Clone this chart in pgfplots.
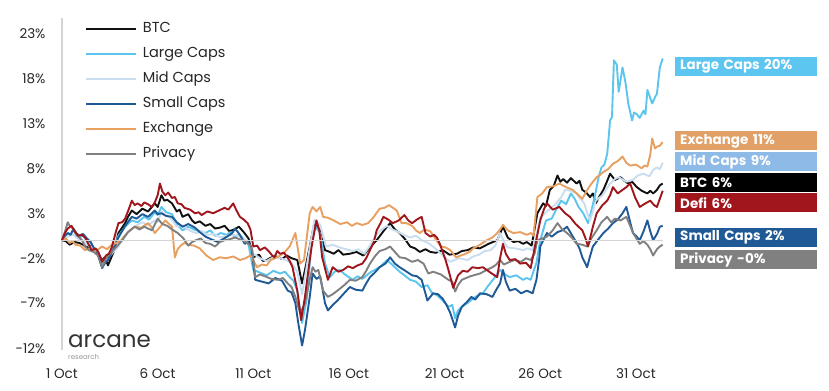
\documentclass[border=0pt]{standalone}
\usepackage{pgfplots}
\pgfplotsset{compat=1.18}
\usepackage{fontspec}
\setmainfont{Poppins}
\definecolor{cbtc}{HTML}{111111}
\definecolor{clarge}{HTML}{5BC5EE}
\definecolor{cmid}{HTML}{C9DDF0}
\definecolor{csmall}{HTML}{1F5A96}
\definecolor{cexch}{HTML}{E8A060}
\definecolor{cpriv}{HTML}{808080}
\definecolor{cdefi}{HTML}{A0161C}
\definecolor{lblmid}{HTML}{8DBAE6}
\definecolor{lblexch}{HTML}{E0A066}
\definecolor{lbllarge}{HTML}{5CC6F0}
\definecolor{axgray}{HTML}{D4D4D4}
\begin{document}
\begin{tikzpicture}
\useasboundingbox (0bp,0bp) rectangle (829bp,391bp);
\begin{axis}[
  at={(62bp,41bp)}, anchor=south west,
  scale only axis, width=602.6bp, height=332bp,
  xmin=0, xmax=31.5, ymin=-12.2, ymax=24.7,
  axis x line*=bottom, axis y line*=left,
  x axis line style={draw=none},
  y axis line style={draw=axgray, line width=2.2bp},
  tick style={draw=none},
  xtick={0,5,10,15,20,25,30},
  xticklabels={1 Oct,6 Oct,11 Oct,16 Oct,21 Oct,26 Oct,31 Oct},
  ytick={-12,-7,-2,3,8,13,18,23},
  yticklabels={-12\%,-7\%,-2\%,3\%,8\%,13\%,18\%,23\%},
  tick label style={font=\fontsize{13.5bp}{16bp}\selectfont, text=black!85},
  xticklabel style={yshift=-15bp},
  yticklabel style={xshift=-13bp},
  clip=false,
  legend style={at={(0.038,0.988)}, anchor=north west, draw=none, fill=none,
    inner sep=0pt, outer sep=0pt, row sep=11bp, column sep=6bp,
    font=\fontsize{14.5bp}{17bp}\selectfont,
    nodes={inner sep=0pt, text height=11bp, text depth=3bp, text=black!85}},
  legend cell align=left,
  legend image code/.code={\draw[#1, line width=2bp] (0bp,0bp) -- (50bp,0bp);},
  every axis plot/.append style={line width=1.9bp, line join=round},
]
% BTC
\addplot[cbtc] coordinates {(0,0) (0.2,-0.1) (0.4,-0.5) (0.65,-0.2) (0.9,-0.3) (1.1,-0.5) (1.3,-0.8) (1.5,-0.6) (1.7,-1.2) (1.9,-1.5) (2.1,-2.2) (2.25,-1.9) (2.4,-2.8) (2.7,-1.3) (2.95,0.8) (3.3,1.9) (3.45,2.6) (3.65,3.3) (3.9,2.9) (4.2,3.5) (4.5,3.2) (4.85,4.1) (5.0,3.7) (5.2,5.0) (5.35,4.4) (5.5,4.5) (5.75,4.1) (6.0,3.2) (6.15,3.4) (6.3,2.6) (6.6,2.9) (6.8,2.2) (6.95,1.9) (7.2,2.1) (7.5,1.6) (7.75,1.8) (8.0,1.3) (8.25,1.4) (8.5,1.6) (8.75,1.0) (9.0,1.2) (9.25,1.5) (9.5,0.9) (9.75,0.2) (10.0,-1.9) (10.3,-1.6) (10.5,-2.3) (10.7,-2.2) (10.95,-1.9) (11.2,-1.8) (11.5,-2.1) (11.75,-1.7) (12.0,-2.0) (12.3,-2.2) (12.55,-4.8) (12.75,-2.8) (12.95,-0.7) (13.2,2.0) (13.45,1.2) (13.75,-1.1) (14.0,-1.3) (14.2,-1.5) (14.45,-1.1) (14.7,-1.6) (15.05,-1.5) (15.4,-1.3) (15.75,-1.7) (16.1,-0.8) (16.45,0) (16.8,1.0) (17.15,1.9) (17.4,1.2) (17.65,0.8) (17.9,0.2) (18.2,-0.7) (18.45,-0.9) (18.7,-1.3) (19.0,-1.0) (19.25,-1.3) (19.55,-1.4) (19.9,-1.1) (20.25,-1.6) (20.65,-1.5) (20.9,-1.2) (21.2,-1.1) (21.5,-0.8) (21.85,-0.9) (22.3,-0.4) (22.75,0) (23.05,1.5) (23.3,0.3) (23.6,-0.2) (23.85,-0.1) (24.1,-0.4) (24.3,-0.2) (24.55,-0.6) (24.85,3.0) (25.15,4.1) (25.3,3.8) (25.5,5.6) (25.7,6.0) (25.9,7.2) (26.05,6.5) (26.2,6.8) (26.4,6.4) (26.6,6.9) (26.9,6.3) (27.05,6.6) (27.2,5.6) (27.4,5.3) (27.6,4.8) (27.75,5.2) (27.9,4.1) (28.1,4.9) (28.3,5.6) (28.5,6.6) (28.65,7.4) (28.9,6.7) (29.2,7.0) (29.4,6.6) (29.6,6.3) (29.8,6.5) (30.05,5.9) (30.3,5.5) (30.6,5.2) (30.75,5.5) (30.9,5.2) (31.1,5.6) (31.25,6.1) (31.4,6.3)};
% Large Caps
\addplot[clarge] coordinates {(0,0) (0.15,0.4) (0.3,0.8) (0.45,0.6) (0.6,1.2) (0.75,0.7) (0.9,0.3) (1.1,0.5) (1.3,0) (1.5,-0.3) (1.7,-1.0) (1.9,-1.6) (2.1,-2.6) (2.25,-2.2) (2.4,-2.0) (2.7,-0.9) (2.95,0.5) (3.3,1.5) (3.65,2.2) (3.95,2.0) (4.3,2.6) (4.55,2.3) (4.85,3.1) (5.0,2.8) (5.2,3.7) (5.45,3.1) (5.75,2.9) (6.0,1.8) (6.3,1.1) (6.6,1.5) (6.9,1.2) (7.2,1.0) (7.5,0.8) (7.75,1.1) (8.0,0.5) (8.3,0.8) (8.6,0.6) (8.8,0.9) (9.0,0.4) (9.25,0.6) (9.5,0.2) (9.75,-0.5) (10.0,-3.3) (10.35,-3.6) (10.7,-3.9) (11.05,-3.4) (11.4,-3.7) (11.65,-3.5) (11.9,-4.1) (12.1,-4.5) (12.3,-5.6) (12.55,-9.2) (12.8,-6.5) (13.05,0) (13.25,1.5) (13.5,0.8) (13.75,-2.6) (14.0,-4.1) (14.25,-3.5) (14.5,-3.3) (14.85,-3.9) (15.2,-4.4) (15.45,-4.0) (15.7,-4.3) (16.1,-3.6) (16.6,-3.0) (17.0,-2.2) (17.3,-2.8) (17.65,-3.5) (17.9,-3.9) (18.2,-4.4) (18.5,-4.6) (18.8,-5.2) (19.1,-5.0) (19.35,-5.9) (19.6,-6.1) (19.9,-6.7) (20.2,-7.4) (20.4,-7.2) (20.55,-8.7) (20.7,-7.8) (20.9,-7.4) (21.25,-6.9) (21.6,-6.3) (22.0,-5.9) (22.3,-5.0) (22.6,-4.2) (22.9,-3.3) (23.15,-3.8) (23.4,-4.1) (23.75,-3.9) (24.1,-4.4) (24.3,-4.2) (24.5,-4.4) (24.8,-2.5) (25.0,0) (25.3,2.2) (25.6,2.4) (25.85,3.5) (26.1,4.4) (26.35,4.0) (26.6,5.2) (26.8,4.6) (27.0,3.7) (27.25,3.0) (27.5,1.9) (27.7,3.5) (27.9,5.4) (28.05,7.0) (28.2,8.1) (28.35,8.4) (28.5,9.6) (28.65,13.3) (28.75,13.7) (28.85,20.0) (29.0,19.5) (29.1,16.5) (29.3,19.2) (29.45,17.6) (29.6,15.2) (29.8,13.3) (29.9,14.2) (30.05,14.0) (30.2,13.6) (30.4,14.4) (30.5,14.0) (30.6,16.7) (30.75,15.8) (30.85,15.2) (31.0,15.9) (31.1,16.3) (31.25,19.2) (31.4,20.2)};
% Mid Caps
\addplot[cmid] coordinates {(0,0) (0.2,0.3) (0.4,0.5) (0.6,0.6) (0.8,0.2) (1.05,0.0) (1.3,-0.5) (1.55,-0.8) (1.8,-1.4) (2.0,-1.9) (2.2,-2.6) (2.4,-2.0) (2.6,-1.5) (2.95,-0.7) (3.2,0.4) (3.5,1.0) (3.85,1.6) (4.2,2.0) (4.5,1.7) (4.85,2.2) (5.0,2.0) (5.2,3.2) (5.4,2.7) (5.6,2.6) (5.8,2.1) (6.0,1.5) (6.25,1.7) (6.5,1.3) (6.75,1.0) (7.0,0.8) (7.3,1.0) (7.6,0.6) (7.95,0.7) (8.3,0.3) (8.6,0.5) (8.9,0.6) (9.2,0.5) (9.5,0.2) (9.75,-0.3) (10.0,-1.5) (10.35,-2.0) (10.7,-2.3) (11.05,-1.9) (11.4,-2.0) (11.7,-2.2) (12.0,-2.5) (12.3,-3.5) (12.55,-6.0) (12.9,-1.5) (13.2,2.3) (13.5,1.7) (13.8,-0.7) (14.15,-0.5) (14.5,-0.8) (14.85,-1.0) (15.2,-1.2) (15.5,-1.0) (15.8,-1.5) (16.1,-0.6) (16.4,0.5) (16.7,1.2) (17.0,1.6) (17.25,1.2) (17.5,1.0) (17.85,0.6) (18.2,0.3) (18.5,0.5) (18.8,0) (19.15,-0.3) (19.5,-0.9) (19.9,-1.7) (20.3,-2.4) (20.75,-2.0) (21.2,-2.2) (21.5,-1.8) (21.8,-1.6) (22.1,-1.2) (22.4,-1.1) (22.65,-0.6) (22.9,0.8) (23.1,-0.2) (23.3,-0.8) (23.7,-0.9) (24.1,-1.1) (24.35,-0.9) (24.6,-1.1) (24.8,0.5) (25.0,2.5) (25.2,2.9) (25.4,3.3) (25.75,3.9) (26.1,4.8) (26.3,5.6) (26.6,5.5) (26.9,5.2) (27.1,4.6) (27.3,4.1) (27.45,3.0) (27.6,2.2) (27.75,3.2) (27.9,4.4) (28.25,5.0) (28.65,6.3) (28.9,6.8) (29.1,7.0) (29.5,6.5) (29.85,6.7) (30.1,7.2) (30.4,7.4) (30.7,7.1) (30.9,7.8) (31.1,8.1) (31.25,7.9) (31.4,8.6)};
% Small Caps
\addplot[csmall] coordinates {(0,0) (0.15,0.5) (0.3,0.8) (0.45,0.6) (0.6,1.3) (0.75,0.8) (0.9,0.5) (1.1,0.7) (1.3,0.2) (1.5,-0.2) (1.7,-1.0) (1.9,-1.8) (2.1,-3.1) (2.25,-2.5) (2.4,-2.2) (2.7,-0.9) (2.95,0.3) (3.3,1.6) (3.65,2.6) (3.9,2.4) (4.2,2.9) (4.5,2.6) (4.85,3.3) (5.0,2.9) (5.2,3.0) (5.45,2.7) (5.75,2.6) (6.0,2.0) (6.3,1.5) (6.6,1.8) (6.95,1.4) (7.2,0.9) (7.5,0.4) (7.8,0.1) (8.15,-0.2) (8.4,0.1) (8.7,0.5) (8.9,0.8) (9.05,1.3) (9.3,0.6) (9.55,-0.4) (9.75,-0.2) (9.9,-0.8) (10.1,-4.4) (10.45,-4.6) (10.8,-4.8) (11.15,-4.2) (11.5,-4.5) (11.8,-5.6) (12.0,-5.8) (12.2,-7.0) (12.35,-9.2) (12.55,-11.7) (12.7,-10.0) (12.95,-6.3) (13.1,-3.7) (13.3,-4.3) (13.5,-4.0) (13.75,-7.0) (13.9,-7.8) (14.15,-7.2) (14.4,-6.7) (14.7,-6.0) (15.05,-5.2) (15.35,-5.5) (15.7,-5.6) (15.9,-4.8) (16.1,-4.1) (16.35,-3.6) (16.6,-3.0) (16.9,-2.6) (17.15,-1.9) (17.4,-2.6) (17.65,-3.0) (17.95,-3.4) (18.3,-3.9) (18.55,-4.0) (18.8,-4.4) (19.1,-6.7) (19.4,-5.9) (19.65,-6.0) (19.9,-6.5) (20.1,-7.2) (20.3,-8.1) (20.55,-9.7) (20.7,-8.4) (20.9,-7.4) (21.15,-6.9) (21.4,-6.3) (21.6,-6.6) (21.85,-5.9) (22.2,-6.0) (22.5,-6.3) (22.7,-5.5) (22.9,-4.8) (23.05,-3.3) (23.2,-4.6) (23.4,-5.6) (23.7,-5.4) (24.0,-5.9) (24.3,-5.6) (24.6,-5.9) (24.8,-4.4) (24.95,-2.0) (25.0,-0.7) (25.2,0.2) (25.35,0.8) (25.6,0.4) (25.9,0.9) (26.15,1.1) (26.4,1.5) (26.65,0.6) (26.9,-0.3) (27.05,-0.9) (27.2,-1.9) (27.45,-3.0) (27.6,-1.8) (27.75,-0.7) (28.0,0) (28.3,0.8) (28.55,1.3) (28.8,1.9) (29.05,2.3) (29.3,3.0) (29.5,3.7) (29.7,2.0) (29.85,0.8) (30.0,0.5) (30.2,0) (30.4,1.0) (30.6,2.2) (30.75,1.0) (30.9,0) (31.1,0.7) (31.25,1.5) (31.4,1.6)};
% Exchange
\addplot[cexch] coordinates {(0,0) (0.2,0.2) (0.4,-0.3) (0.55,-0.1) (0.7,-0.5) (0.95,-0.6) (1.2,-1.1) (1.45,-0.9) (1.7,-1.3) (1.9,-1.0) (2.1,-0.7) (2.35,-1.0) (2.6,-0.5) (2.85,-0.3) (3.1,0) (3.45,0.9) (3.8,1.5) (4.15,1.4) (4.5,1.9) (4.7,1.4) (4.85,0.8) (5.1,1.4) (5.4,2.2) (5.6,1.8) (5.75,1.5) (5.9,-1.9) (6.05,-1.0) (6.2,-0.6) (6.4,-0.3) (6.6,-0.5) (6.9,-0.6) (7.2,-0.9) (7.55,-1.7) (7.9,-2.2) (8.25,-1.9) (8.6,-2.0) (8.95,-1.8) (9.3,-2.2) (9.6,-2.0) (9.85,-1.7) (10.2,-3.0) (10.45,-2.7) (10.7,-2.8) (10.9,-2.2) (11.15,-2.0) (11.4,-1.7) (11.65,-1.3) (11.9,-0.7) (12.2,0.8) (12.45,-2.6) (12.65,-2.2) (12.95,3.0) (13.1,3.7) (13.3,3.2) (13.5,3.7) (13.65,2.6) (13.9,2.5) (14.2,2.2) (14.55,1.8) (14.9,2.0) (15.15,1.6) (15.4,1.9) (15.7,1.7) (16.0,1.9) (16.3,2.6) (16.6,3.5) (16.85,3.6) (17.1,3.9) (17.3,3.6) (17.5,3.3) (17.75,1.9) (18.0,1.9) (18.3,1.6) (18.5,1.1) (18.7,0.8) (18.95,1.2) (19.25,1.0) (19.5,0.2) (19.8,-0.7) (20.05,-0.8) (20.3,-1.1) (20.6,-1.9) (20.85,-1.7) (21.1,-1.5) (21.3,-1.3) (21.5,-0.9) (21.85,-0.5) (22.2,0) (22.5,0.3) (22.75,0.8) (22.9,1.2) (23.05,1.7) (23.3,1.1) (23.6,0.8) (23.95,0.9) (24.3,0.6) (24.5,0.8) (24.65,0.5) (24.85,4.8) (25.1,5.2) (25.35,5.9) (25.7,6.0) (26.0,6.3) (26.35,5.9) (26.7,5.6) (26.95,5.1) (27.2,4.6) (27.4,5.4) (27.55,5.9) (27.75,6.5) (27.95,7.0) (28.15,7.3) (28.3,7.6) (28.55,7.9) (28.8,8.5) (29.05,8.8) (29.3,9.3) (29.5,8.6) (29.7,8.3) (30.0,8.4) (30.3,8.0) (30.45,8.3) (30.6,8.2) (30.75,9.5) (30.85,11.3) (31.0,10.2) (31.1,10.4) (31.25,10.5) (31.4,10.9)};
% Privacy
\addplot[cpriv] coordinates {(0,0) (0.15,0.9) (0.3,2.0) (0.4,1.6) (0.5,1.5) (0.75,0.6) (1.05,0) (1.2,-0.7) (1.4,-1.1) (1.65,-1.3) (1.9,-1.7) (2.1,-3.0) (2.3,-2.0) (2.6,-1.3) (2.9,-0.6) (3.15,0) (3.45,0.9) (3.8,1.5) (4.05,1.2) (4.3,1.5) (4.5,1.3) (4.7,1.1) (5.0,2.4) (5.25,1.8) (5.5,1.6) (5.75,1.2) (6.05,0.8) (6.35,0.2) (6.6,-0.6) (6.8,-0.2) (7.0,0) (7.25,0.2) (7.5,-0.3) (7.75,-0.4) (8.0,-0.7) (8.25,-0.2) (8.5,0) (8.75,0.1) (9.05,0.3) (9.3,0.1) (9.6,-0.2) (9.8,-0.5) (9.95,-1.1) (10.1,-4.1) (10.35,-3.8) (10.6,-4.0) (10.95,-4.3) (11.3,-4.4) (11.55,-4.2) (11.8,-4.8) (12.0,-5.2) (12.2,-6.3) (12.45,-8.1) (12.7,-7.0) (12.95,-4.4) (13.1,-3.0) (13.25,-3.5) (13.4,-3.3) (13.65,-5.6) (13.9,-6.3) (14.15,-6.0) (14.4,-5.6) (14.75,-5.0) (15.05,-4.4) (15.35,-4.5) (15.7,-4.1) (15.9,-3.4) (16.1,-2.6) (16.35,-1.8) (16.6,-1.2) (16.9,-1.0) (17.15,-0.7) (17.4,-1.3) (17.65,-1.9) (17.95,-2.0) (18.3,-2.4) (18.6,-2.2) (18.9,-2.6) (19.15,-3.7) (19.4,-3.5) (19.8,-3.8) (20.2,-4.4) (20.4,-4.6) (20.55,-5.7) (20.7,-5.0) (20.9,-4.4) (21.35,-4.0) (21.85,-3.7) (22.2,-3.3) (22.5,-3.0) (22.7,-2.7) (22.9,-2.2) (23.1,-2.7) (23.3,-2.5) (23.65,-2.2) (24.0,-2.4) (24.25,-2.0) (24.5,-2.2) (24.7,-1.5) (24.85,0) (25.1,0.2) (25.35,0.4) (25.65,1.1) (25.9,1.9) (26.15,1.2) (26.4,0.8) (26.65,0.3) (26.9,-0.4) (27.2,-0.5) (27.45,-0.7) (27.7,0.3) (27.95,1.1) (28.2,2.0) (28.5,2.6) (28.7,2.0) (28.9,2.4) (29.2,2.2) (29.5,2.6) (29.7,1.6) (29.85,0.8) (30.0,0.3) (30.2,-0.4) (30.4,-0.1) (30.6,-0.5) (30.75,-1.0) (30.9,-1.7) (31.1,-1.0) (31.25,-0.7) (31.4,-0.5)};
% Defi
\addplot[cdefi] coordinates {(0,0) (0.15,0.8) (0.3,1.3) (0.5,1.6) (0.65,1.0) (0.85,0.5) (1.05,0.6) (1.2,0.3) (1.35,-0.3) (1.55,-1.1) (1.75,-0.9) (1.9,-1.3) (2.1,-2.4) (2.3,-1.7) (2.45,-1.5) (2.6,-0.8) (2.8,0.8) (2.95,1.9) (3.15,2.0) (3.3,2.4) (3.5,3.5) (3.65,4.4) (3.8,3.9) (3.95,4.1) (4.15,3.8) (4.3,4.2) (4.5,4.0) (4.7,3.7) (4.85,4.2) (5.0,5.0) (5.12,6.3) (5.25,5.4) (5.4,5.0) (5.55,5.3) (5.75,4.7) (5.9,4.8) (6.05,4.1) (6.25,4.0) (6.4,3.6) (6.7,3.4) (6.95,3.0) (7.15,3.1) (7.3,2.8) (7.6,3.2) (7.9,3.0) (8.2,3.3) (8.5,3.6) (8.7,3.4) (8.95,4.1) (9.1,3.4) (9.3,2.6) (9.5,2.3) (9.7,1.9) (9.85,1.2) (10.0,-0.7) (10.2,-0.6) (10.35,-1.1) (10.6,-0.8) (10.8,-1.2) (10.95,-1.6) (11.1,-1.9) (11.25,-1.2) (11.4,-1.5) (11.6,-1.4) (11.75,-1.8) (11.9,-2.3) (12.05,-3.0) (12.3,-5.6) (12.5,-8.9) (12.7,-6.3) (12.9,-3.0) (13.05,-0.7) (13.3,2.2) (13.45,1.1) (13.6,-1.9) (13.9,-4.4) (14.15,-3.0) (14.45,-3.5) (14.7,-3.3) (14.95,-2.9) (15.2,-3.1) (15.45,-2.8) (15.7,-2.6) (15.9,-2.0) (16.1,-1.1) (16.3,-0.2) (16.45,1.1) (16.65,1.9) (16.8,2.6) (17.05,2.3) (17.3,1.9) (17.6,2.2) (17.9,2.8) (18.1,2.2) (18.3,1.9) (18.55,2.3) (18.8,2.6) (19.0,0.8) (19.25,0.4) (19.45,0.6) (19.6,0.3) (19.75,-0.4) (19.9,-1.3) (20.05,-2.2) (20.2,-3.3) (20.45,-5.3) (20.7,-3.9) (20.95,-3.4) (21.2,-3.5) (21.45,-3.0) (21.75,-3.1) (22.0,-3.0) (22.4,-3.6) (22.75,-4.1) (22.9,-2.0) (23.05,-0.4) (23.2,-1.5) (23.4,-2.2) (23.7,-2.1) (23.95,-2.6) (24.25,-2.5) (24.5,-3.1) (24.75,-0.4) (25.0,2.2) (25.2,3.5) (25.35,4.1) (25.65,3.4) (26.0,3.7) (26.3,3.0) (26.55,2.6) (26.85,1.8) (27.2,1.1) (27.35,0.3) (27.5,-0.7) (27.75,1.5) (27.95,3.0) (28.25,3.9) (28.5,4.4) (28.65,5.0) (28.8,5.9) (29.05,5.2) (29.3,5.6) (29.5,5.9) (29.7,6.3) (29.95,4.8) (30.2,3.7) (30.5,4.1) (30.75,4.4) (30.95,3.9) (31.1,3.7) (31.25,4.6) (31.4,5.5)};
\addplot[axgray, line width=1.3bp, forget plot] coordinates {(0,0) (31.4,0)};
\legend{BTC,Large Caps,Mid Caps,Small Caps,Exchange,Privacy}
\end{axis}
\tikzset{lbl/.style={anchor=west, text=white, inner xsep=5bp, inner ysep=0pt,
  minimum height=19bp, text width=132bp, align=left,
  font=\fontsize{13.5bp}{16bp}\selectfont\bfseries}}
\node[lbl, fill=lbllarge] at (675bp,324.5bp) {Large Caps 20\%};
\node[lbl, fill=lblexch] at (675bp,250bp) {Exchange 11\%};
\node[lbl, fill=lblmid] at (675bp,229bp) {Mid Caps 9\%};
\node[lbl, fill=black] at (675bp,208.5bp) {BTC 6\%};
\node[lbl, fill=cdefi] at (675bp,188bp) {Defi 6\%};
\node[lbl, fill=csmall] at (675bp,153.5bp) {Small Caps 2\%};
\node[lbl, fill=cpriv] at (675bp,131bp) {Privacy -0\%};
\node[anchor=base west, inner sep=0pt, text=black!80, font=\fontsize{23bp}{26bp}\selectfont] at (68bp,43bp) {arcane};
\node[anchor=base west, inner sep=0pt, text=black!40, font=\fontsize{7bp}{8bp}\selectfont] at (68bp,32bp) {research};
\end{tikzpicture}
\end{document}
